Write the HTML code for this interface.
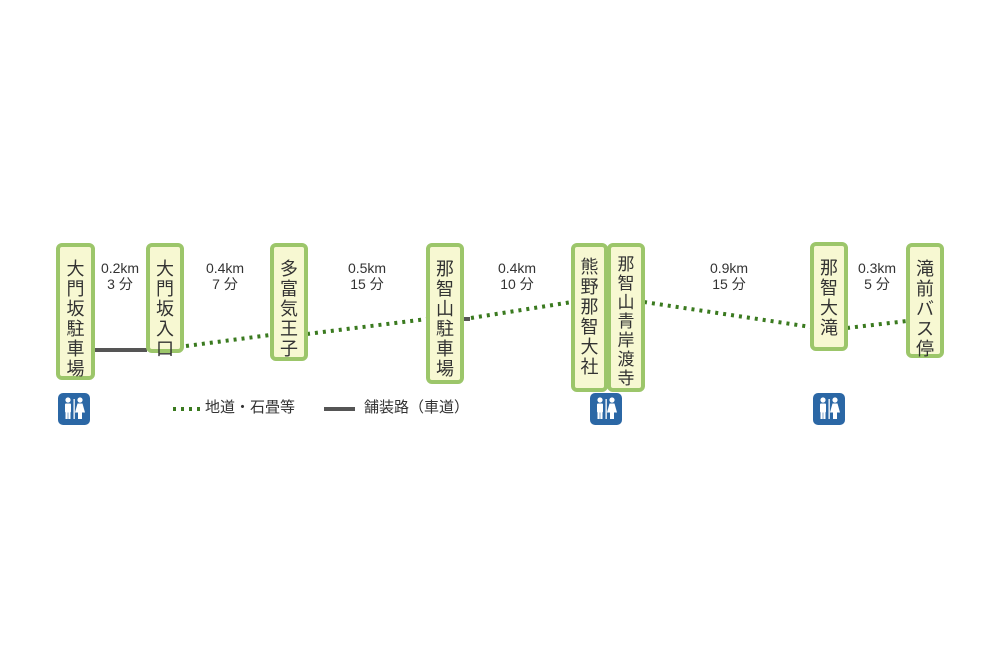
<!DOCTYPE html>
<html><head><meta charset="utf-8"><style>
body{margin:0;width:1000px;height:666px;background:#fff;position:relative;overflow:hidden;font-family:"Liberation Sans","Noto Sans CJK JP",sans-serif;color:#333}
.b{position:absolute;box-sizing:border-box;border:4px solid #9cc66a;border-radius:6px;background:#f7f8d2;font-size:18px;line-height:20px;text-align:center;padding-top:12px;color:#333}
.l{position:absolute;font-size:14px;line-height:16px;text-align:center;width:60px;color:#333}
.t{position:absolute;width:32px;height:32px;border-radius:5px;background:#2b67a5}
</style></head><body>
<svg width="1000" height="666" style="position:absolute;left:0;top:0">
<g stroke="#555" stroke-width="4"><line x1="95" y1="350" x2="147" y2="350"/><line x1="463" y1="319" x2="470" y2="319"/><line x1="324" y1="409" x2="355" y2="409"/></g>
<g stroke="#3a7a1f" stroke-width="4" stroke-dasharray="3,5">
<line x1="186" y1="346" x2="270" y2="335"/><line x1="307" y1="334" x2="427" y2="319"/><line x1="471" y1="318" x2="572" y2="302"/><line x1="644" y1="302" x2="811" y2="327"/><line x1="847" y1="328" x2="907" y2="321"/><line x1="173" y1="409" x2="203" y2="409"/></g>
<g fill="#fff">
<g id="ic"><circle cx="68" cy="400" r="2.6"/><rect x="65" y="403.5" width="6" height="9" rx="1"/><rect x="65.5" y="411" width="2.2" height="8"/><rect x="68.3" y="411" width="2.2" height="8"/><rect x="73.5" y="399" width="1.3" height="20"/><circle cx="80" cy="400" r="2.6"/><path d="M77.5 403.5h5l2.5 9h-3v6.5h-4v-6.5h-3z"/></g>
<use href="#ic" x="532"/><use href="#ic" x="755"/>
</g>
</svg>
<div class="t" style="left:58px;top:393px;z-index:-1"></div>
<div class="t" style="left:590px;top:393px;z-index:-1"></div>
<div class="t" style="left:813px;top:393px;z-index:-1"></div>
<div class="b" style="left:56px;top:243px;width:39px;height:137px">大<br>門<br>坂<br>駐<br>車<br>場</div>
<div class="b" style="left:146px;top:243px;width:38px;height:110px">大<br>門<br>坂<br>入<br>口</div>
<div class="b" style="left:270px;top:243px;width:38px;height:118px">多<br>富<br>気<br>王<br>子</div>
<div class="b" style="left:426px;top:243px;width:38px;height:141px">那<br>智<br>山<br>駐<br>車<br>場</div>
<div class="b" style="left:571px;top:243px;width:37px;height:149px;padding-top:10px;">熊<br>野<br>那<br>智<br>大<br>社</div>
<div class="b" style="left:607px;top:243px;width:38px;height:149px;padding-top:8px;font-size:17px;line-height:19px">那<br>智<br>山<br>青<br>岸<br>渡<br>寺</div>
<div class="b" style="left:810px;top:242px;width:38px;height:109px">那<br>智<br>大<br>滝</div>
<div class="b" style="left:906px;top:243px;width:38px;height:115px">滝<br>前<br>バ<br>ス<br>停</div>
<div class="l" style="left:90px;top:260px">0.2km<br>3 分</div>
<div class="l" style="left:195px;top:260px">0.4km<br>7 分</div>
<div class="l" style="left:337px;top:260px">0.5km<br>15 分</div>
<div class="l" style="left:487px;top:260px">0.4km<br>10 分</div>
<div class="l" style="left:699px;top:260px">0.9km<br>15 分</div>
<div class="l" style="left:847px;top:260px">0.3km<br>5 分</div>
<div style="position:absolute;left:205px;top:399px;font-size:15px;line-height:18px">地道・石畳等</div>
<div style="position:absolute;left:364px;top:399px;font-size:15px;line-height:18px">舗装路（車道）</div>
</body></html>
